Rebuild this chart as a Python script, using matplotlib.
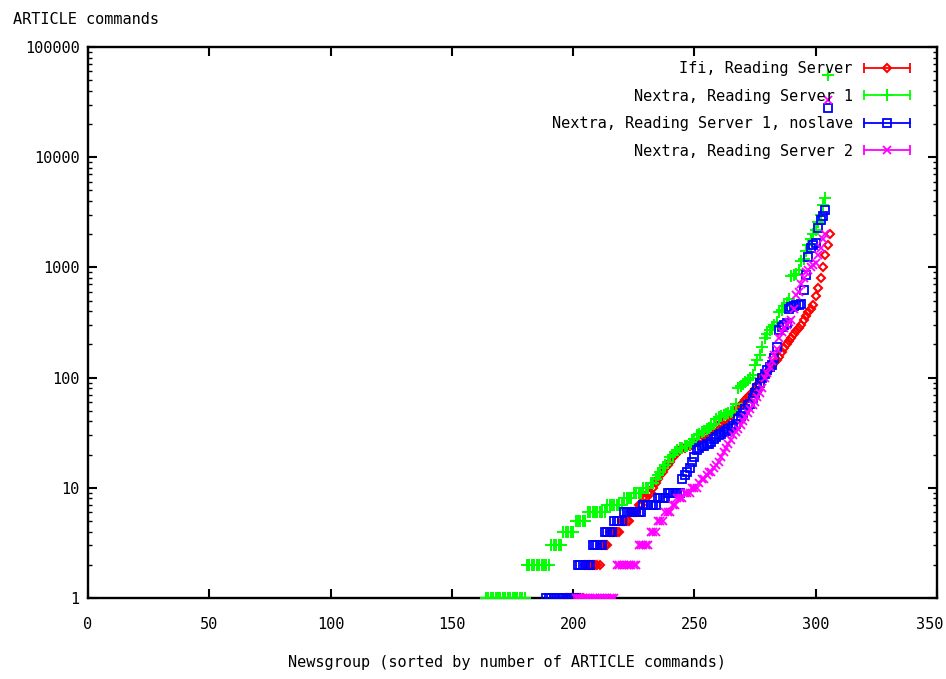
import matplotlib
matplotlib.use("Agg")
import matplotlib.pyplot as plt
import matplotlib.transforms as mtransforms
from matplotlib.lines import Line2D
from matplotlib.legend_handler import HandlerLine2D, HandlerTuple
from matplotlib.ticker import FixedLocator, LogLocator, NullFormatter

# ---------------- data ----------------
series_names = ["Ifi, Reading Server", "Nextra, Reading Server 1",
                "Nextra, Reading Server 1, noslave", "Nextra, Reading Server 2"]

# rank of the first newsgroup with a non-zero count in each series
ifi_start = 197
nextra1_start = 164
noslave_start = 189
nextra2_start = 201

ifi_values = ([1] * 8 + [2] * 7 + [3] * 3 + [4] * 5 + [5] * 4 + [6] * 3 + [7] * 2 + [8] * 2 + [9] * 2 +
              [10, 11, 12, 13, 14, 15, 16, 17, 19, 20,
               21, 22, 23, 23, 24, 24, 25, 25, 26, 27,
               28, 30, 31, 32, 33, 35, 36, 37, 39, 40,
               42, 44, 46, 48, 50, 53, 56, 59, 62, 66,
               70, 74, 78, 86, 95, 100, 105, 112, 120, 128,
               135, 145, 155, 170, 185, 200, 215, 230, 250, 265,
               280, 300, 330, 360, 390, 420, 460, 550, 650, 800,
               1000, 1300, 1600, 2000])

nextra1_values = ([1] * 17 + [2] * 10 + [3] * 5 + [4] * 5 + [5] * 5 + [6] * 8 + [7] * 7 + [8] * 4 +
                  [9] * 4 + [10] * 3 + [11] * 2 +
                  [12, 13, 14, 15, 16, 17, 19, 20, 21, 22,
                   23, 23, 24, 24, 25, 26, 28, 30, 31, 32,
                   33, 34, 35, 36, 38, 42, 44, 45, 46, 47,
                   48, 49, 50, 58, 80, 84, 88, 92, 95, 100,
                   105, 130, 145, 160, 190, 230, 250, 270, 290, 300,
                   320, 390, 410, 450, 480, 520, 830, 850, 880, 950,
                   1150, 1200, 1400, 1600, 1800, 2000, 2200, 2600, 3000, 3700,
                   4300, 56000])

noslave_values = ([1] * 13 + [2] * 6 + [3] * 5 + [4] * 4 + [5] * 4 + [6] * 8 + [7] * 6 + [8] * 4 + [9] * 6 +
                  [12, 13, 14, 15, 17, 19, 22, 23, 24, 24,
                   25, 25, 26, 28, 29, 30, 31, 32, 33, 34,
                   35, 36, 38, 42, 45, 48, 52, 56, 58, 65,
                   72, 80, 90, 100, 108, 118, 125, 130, 150, 190,
                   270, 285, 300, 310, 420, 440, 450, 455, 460, 470,
                   620, 850, 1250, 1500, 1600, 1650, 2300, 2700, 2900, 3300,
                   28000])

nextra2_values = ([1] * 17 + [2] * 9 + [3] * 5 + [4] * 3 + [5] * 3 + [6] * 3 + [7] * 2 + [8] * 3 +
                  [9] * 3 + [10] * 2 +
                  [10, 11, 12, 12, 13, 14, 14, 15, 16, 17,
                   19, 21, 23, 25, 27, 30, 32, 34, 37, 40,
                   44, 48, 52, 56, 60, 66, 72, 80, 100, 110,
                   125, 140, 160, 180, 230, 260, 280, 300, 320, 330,
                   420, 560, 600, 700, 800, 900, 950, 1000, 1050, 1100,
                   1300, 1500, 1800, 2000, 33000])

x_ticks = [0, 50, 100, 150, 200, 250, 300, 350]
y_ticks = [1, 10, 100, 1000, 10000, 100000]
y_tick_labels = ["1", "10", "100", "1000", "10000", "100000"]

# ---------------- style ----------------
plt.rcParams['font.family'] = ['DejaVu Sans Mono', 'DejaVu Sans']
FS = 11

fig = plt.figure(figsize=(9.46, 6.79), dpi=100)
ax = fig.add_axes([88 / 946, 1 - 598 / 679, (937 - 88) / 946, (598 - 47) / 679])

styles = [
    dict(color="#ff0000", marker="D", ms=4.0, mfc="none", mew=1.5),
    dict(color="#00ff00", marker="+", ms=8, mew=1.4),
    dict(color="#0000ff", marker="s", ms=6, mfc="none", mew=1.3),
    dict(color="#ff00ff", marker="x", ms=6, mew=1.3),
]
starts = [ifi_start, nextra1_start, noslave_start, nextra2_start]
values = [ifi_values, nextra1_values, noslave_values, nextra2_values]

handles = []
hmap = {}
for name, st, start, vals in zip(series_names, styles, starts, values):
    xs = [start + i for i in range(len(vals))]
    ax.plot(xs, vals, linestyle="none", **st, zorder=3)
    cap = Line2D([], [], color=st["color"], lw=1.3, marker="|", ms=7, mew=1.3)
    mk = Line2D([], [], linestyle="none", **st)
    hmap[cap] = HandlerLine2D(numpoints=2, marker_pad=0)
    hmap[mk] = HandlerLine2D(numpoints=1)
    handles.append((cap, mk))
hmap[tuple] = HandlerTuple(ndivide=1)

ax.set_yscale("log")
ax.set_xlim(0, 350)
ax.set_ylim(1, 100000)
ax.xaxis.set_major_locator(FixedLocator(x_ticks))
ax.set_xticklabels([str(v) for v in x_ticks])
ax.yaxis.set_major_locator(FixedLocator(y_ticks))
ax.set_yticklabels(y_tick_labels)
ax.yaxis.set_minor_locator(LogLocator(base=10, subs=range(2, 10)))
ax.yaxis.set_minor_formatter(NullFormatter())

for sp in ax.spines.values():
    sp.set_linewidth(1.7)
    sp.set_color("black")

ax.tick_params(axis="both", which="major", direction="in", length=6.5, width=1.5,
               top=True, right=True, labelsize=FS)
ax.tick_params(axis="x", which="major", pad=14)
ax.tick_params(axis="y", which="major", pad=6)
ax.tick_params(axis="y", which="minor", direction="in", length=3.2, width=1.0, right=True)

# keep the last x tick label inside the canvas, as in the reference
last_lbl = ax.get_xticklabels()[-1]
last_lbl.set_transform(last_lbl.get_transform() +
                       mtransforms.ScaledTranslation(-7 / 100, 0, fig.dpi_scale_trans))

leg = ax.legend(handles, series_names, handler_map=hmap, loc="upper right",
                bbox_to_anchor=(1 - 27 / 849, 1 - 14 / 551), borderaxespad=0, borderpad=0,
                frameon=False, markerfirst=False, handlelength=3.0, handletextpad=0.75,
                labelspacing=0.82, fontsize=FS)

fig.text(13 / 946, 1 - 20 / 679, "ARTICLE commands", ha="left", va="center", fontsize=FS)
fig.text(506.5 / 946, 1 - 663 / 679, "Newsgroup (sorted by number of ARTICLE commands)",
         ha="center", va="center", fontsize=FS)

fig.savefig("out.png", dpi=100)
